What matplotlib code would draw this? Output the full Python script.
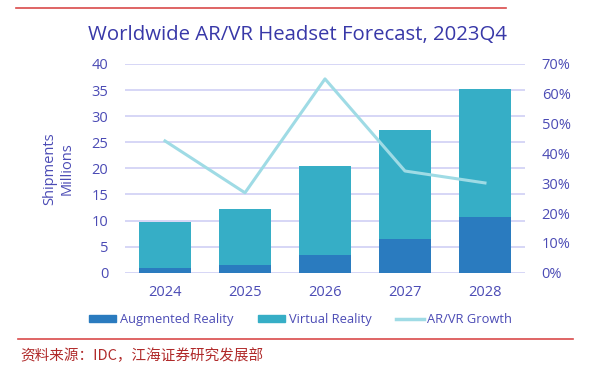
import numpy as np
import matplotlib.pyplot as plt
from matplotlib.lines import Line2D

plt.rcParams['font.family'] = ['Open Sans', 'Noto Sans CJK SC', 'DejaVu Sans']

years = ['2024', '2025', '2026', '2027', '2028']
ar = [0.9, 1.55, 3.45, 6.5, 10.7]
total = [9.65, 12.25, 20.4, 27.3, 35.3]
vr = [t - a for t, a in zip(total, ar)]
growth = [44.2, 26.8, 65.0, 34.1, 30.1]

c_ar = '#2a7bbf'
c_vr = '#36aec6'
c_line = '#9fdbe5'
c_text = '#4b4bb5'
c_grid = '#cfcff5'
c_red = '#d94a4a'

fig = plt.figure(figsize=(5.92, 3.65), dpi=100)
ax = fig.add_axes([0.2111, 0.2529, 0.6757, 0.5718])
x = np.arange(len(years))

ax.bar(x, ar, width=0.64, color=c_ar, zorder=3)
ax.bar(x, vr, width=0.64, bottom=ar, color=c_vr, zorder=3)
ax.set_xlim(-0.5, 4.5)
ax.set_ylim(0, 40)
ax.set_yticks(range(0, 41, 5))
ax.set_xticks(x)
ax.set_xticklabels(years)
ax.grid(axis='y', color=c_grid, linewidth=1.2, zorder=0)
for s in ax.spines.values():
    s.set_visible(False)
ax.tick_params(length=0, colors=c_text, labelsize=10.5)
ax.tick_params(axis='y', pad=12)
ax.tick_params(axis='x', pad=9)
ax.set_ylabel('Shipments\nMillions', color=c_text, fontsize=10.5, labelpad=12)

ax2 = ax.twinx()
ax2.plot(x, growth, color=c_line, linewidth=2.2, zorder=4)
ax2.set_ylim(0, 70)
ax2.set_yticks(range(0, 71, 10))
ax2.set_yticklabels([f'{v}%' for v in range(0, 71, 10)])
for s in ax2.spines.values():
    s.set_visible(False)
ax2.tick_params(length=0, colors=c_text, labelsize=10.5, pad=12)

fig.text(0.503, 0.905, 'Worldwide AR/VR Headset Forecast, 2023Q4', ha='center',
         va='center', fontsize=14.7, color='#3838a8')

handles = [plt.Rectangle((0, 0), 1, 1, color=c_ar),
           plt.Rectangle((0, 0), 1, 1, color=c_vr),
           Line2D([0], [0], color=c_line, linewidth=2.5)]
leg = fig.legend(handles, ['Augmented Reality', 'Virtual Reality', 'AR/VR Growth'],
                 loc='center', bbox_to_anchor=(0.508, 0.125), ncol=3, frameon=False,
                 fontsize=9.3, handlelength=2.1, handleheight=0.45, handletextpad=0.3,
                 columnspacing=1.9)
for t in leg.get_texts():
    t.set_color(c_text)

fig.add_artist(Line2D([0.027, 0.855], [0.978, 0.978], color=c_red, linewidth=1.2))
fig.add_artist(Line2D([0.030, 0.968], [0.071, 0.071], color=c_red, linewidth=1.2))
fig.text(0.035, 0.004, '资料来源：IDC，江海证券研究发展部', ha='left', va='bottom',
         fontsize=10.5, color='#b02a2a', family=['Noto Sans CJK SC', 'DejaVu Sans'])

fig.savefig('out.png', dpi=100)
